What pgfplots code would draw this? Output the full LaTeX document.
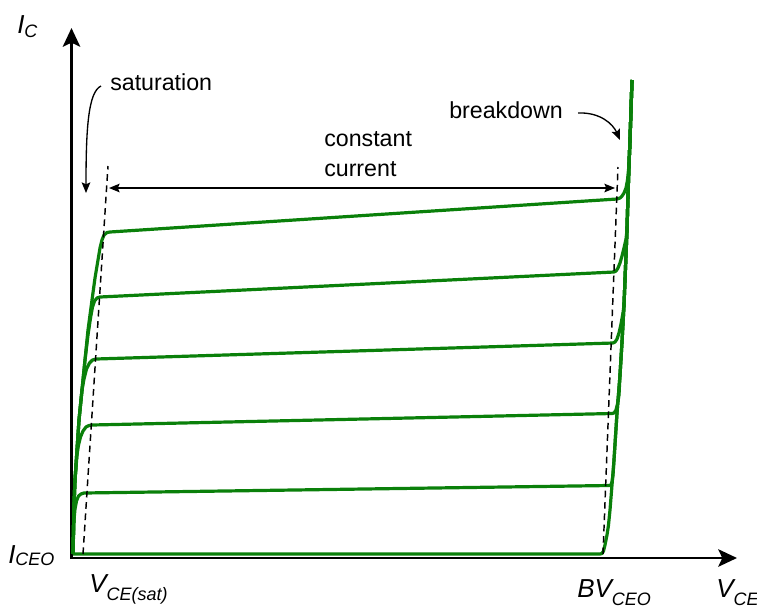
\documentclass[border=0pt]{standalone}
\usepackage{fontspec}
\setmainfont{Liberation Sans}
\usepackage{pgfplots}
\pgfplotsset{compat=1.18}
\usetikzlibrary{arrows.meta}
\definecolor{curvegreen}{RGB}{10,128,10}

% main letter, subscript, drop of the subscript
\newcommand{\lab}[3]{{\fontsize{19.5}{19}\selectfont\itshape #1}\raisebox{-#3}{\fontsize{13.5}{13}\selectfont\itshape #2}}

\pgfplotsset{icurve/.style={color=curvegreen, line width=2.4pt, line join=round, no markers}}

\begin{document}
\begin{tikzpicture}
\begin{axis}[
    width=567.75pt, height=456pt, scale only axis,
    xmin=0, xmax=757, ymin=0, ymax=608, y dir=reverse,
    hide axis, clip=false,
]
% axes
\draw[line width=2.2pt, -{Stealth[length=14pt,width=13pt,inset=3pt]}] (axis cs:71.5,559) -- (axis cs:71.5,28);
\draw[line width=2.2pt, -{Stealth[length=14pt,width=13pt,inset=3pt]}] (axis cs:70,558) -- (axis cs:737,558);

% I_CEO curve
\addplot[icurve] coordinates {
(73,554)(600,554)(602,553.5)(603.5,551)(605,545)(607,535)(608.5,525)(610,510)(612,485)(614,460)
(617,413)(620,375)(622,342)(624,305)(625,280)(626,255)(627,230)(628,195)(629,165)(630,140)(631,110)(632,80)};
% curve 5
\addplot[icurve] coordinates {
(73,554)(73.5,535)(74,520)(75,509)(76.5,501)(78.5,496)(81,494)(84,493)(609,485.5)(611,485)(612,482)(613,475)(614,460)
(617,413)(620,375)(622,342)(624,305)(625,280)(626,255)(627,230)(628,195)(629,165)(630,140)(631,110)(632,80)};
% curve 4
\addplot[icurve] coordinates {
(73,554)(73.5,530)(74,505)(75,480)(77,455)(78.5,445)(80.5,437)(83,431)(86,427)(89,425.5)(92,425)(612,413.5)(614,413)(616,410)(617.5,404)(619,395)
(620,375)(622,342)(624,305)(625,280)(626,255)(627,230)(628,195)(629,165)(630,140)(631,110)(632,80)};
% curve 3
\addplot[icurve] coordinates {
(73,554)(73.5,530)(74,505)(75,480)(77,450)(79,420)(82,390)(84,379)(86.5,369)(89.5,363)(92.5,360)(96,359)(613,343)(615,342)(617,339)(619,333)(621,324)(623,313)
(624,305)(625,280)(626,255)(627,230)(628,195)(629,165)(630,140)(631,110)(632,80)};
% curve 2
\addplot[icurve] coordinates {
(73,554)(73.5,530)(74,505)(75,480)(77,450)(79,420)(82,390)(85,360)(88,335)(90.5,318)(92.5,307)(94.5,301)(97,298)(100,297)(614,272)(616,271)(618,268)(620,263)(622,256)(624,248)(626,239)
(627,230)(628,195)(629,165)(630,140)(631,110)(632,80)};
% curve 1
\addplot[icurve] coordinates {
(73,554)(73.5,530)(74,505)(75,480)(77,450)(79,420)(82,390)(85,360)(88,330)(92,300)(95,278)(98,260)(100,248)(102,240)(104,235)(107,232.5)(110,232)
(617,199)(620,198)(622,196)(624,193)(626,188)(627.5,180)(628.5,170)(629,165)(630,140)(631,110)(632,80)};

% dashed limits
\draw[line width=1.1pt, dash pattern=on 5pt off 3.5pt] (axis cs:83,554) -- (axis cs:108,166);
\draw[line width=1.1pt, dash pattern=on 5pt off 3.5pt] (axis cs:603,554) -- (axis cs:618,167);

% annotations
\draw[line width=1.1pt, {Stealth[length=8pt,width=6.5pt,inset=1.5pt]}-{Stealth[length=8pt,width=6.5pt,inset=1.5pt]}] (axis cs:109,188) -- (axis cs:615,188);
\draw[line width=1pt, -{Stealth[length=8pt,width=6.5pt,inset=1.5pt]}] (axis cs:101,86) .. controls (axis cs:88,92) and (axis cs:86,130) .. (axis cs:86,193);
\draw[line width=1pt, -{Stealth[length=8pt,width=6.5pt,inset=1.5pt]}] (axis cs:578,113) .. controls (axis cs:600,112) and (axis cs:613,124) .. (axis cs:620,140);

\node[anchor=base west, inner sep=0] at (axis cs:110,90) {\fontsize{17.4}{20}\selectfont saturation};
\node[anchor=base west, inner sep=0] at (axis cs:449,118) {\fontsize{17.4}{20}\selectfont breakdown};
\node[anchor=base west, inner sep=0] at (axis cs:324,146) {\fontsize{17.4}{20}\selectfont constant};
\node[anchor=base west, inner sep=0] at (axis cs:324,176) {\fontsize{17.4}{20}\selectfont current};

\node[anchor=base west, inner sep=0] at (axis cs:17,33) {\lab{I}{C}{3pt}};
\node[anchor=base west, inner sep=0] at (axis cs:8,563) {\lab{I}{CEO}{1.5pt}};
\node[anchor=base west, inner sep=0] at (axis cs:89,592) {\lab{V}{CE(sat)}{6pt}};
\node[anchor=base west, inner sep=0] at (axis cs:577,597) {\lab{BV}{CEO}{6.5pt}};
\node[anchor=base west, inner sep=0] at (axis cs:716,597) {\lab{V}{CE}{6.5pt}};
\end{axis}
\pgfresetboundingbox
\path (current axis.south west) rectangle (current axis.north east);
\end{tikzpicture}
\end{document}
